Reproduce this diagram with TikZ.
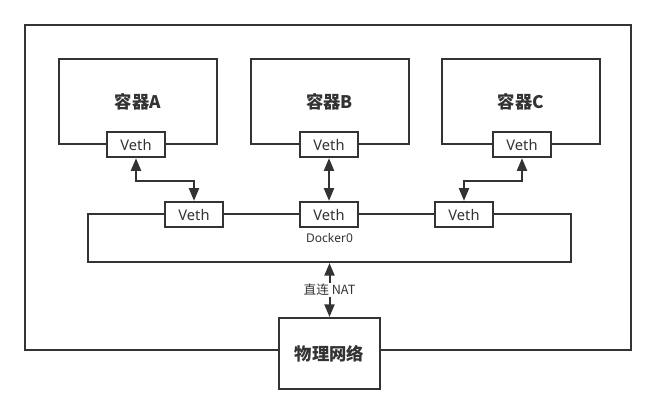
\documentclass[tikz,border=0pt]{standalone}
\usepackage{fontspec}
\setmainfont{Noto Sans}
\newfontfamily\cjk{Noto Sans CJK SC}
\usetikzlibrary{arrows.meta}
\definecolor{linegray}{HTML}{333333}
\tikzset{
	box/.style={draw=linegray, line width=1.5pt, fill=white, inner sep=0pt, text=linegray},
	container/.style={box, minimum width=118.5pt, minimum height=63.75pt, font=\cjk\bfseries\fontsize{13}{15}\selectfont},
	veth/.style={box, minimum width=44pt, minimum height=19pt, font=\fontsize{11}{13}\selectfont},
	link/.style={draw=linegray, line width=1.5pt, {Triangle[length=9.5pt,width=7.5pt]}-{Triangle[length=9.5pt,width=7.5pt]}}
}
\begin{document}
\begin{tikzpicture}[x=0.75pt, y=-0.75pt]
	\useasboundingbox (0,0) rectangle (656,414);
	\draw[box, fill=none] (25,25) rectangle (631,350);
	% containers
	\node[container] (ctA) at (138,101.5) {容器A};
	\node[container] (ctB) at (329.5,101.5) {容器B};
	\node[container] (ctC) at (521,101.5) {容器C};
	\node[veth] (vethA) at (136,144.5) {Veth};
	\node[veth] (vethB) at (329,144.5) {Veth};
	\node[veth] (vethC) at (522,144.5) {Veth};
	% bridge
	\node[box, minimum width=362.25pt, minimum height=36pt, font=\fontsize{9}{11}\selectfont] (bridge) at (329.5,238) {Docker0};
	\node[veth] (bvethA) at (194,214.5) {Veth};
	\node[veth] (bvethB) at (329,214.5) {Veth};
	\node[veth] (bvethC) at (464,214.5) {Veth};
	\node[box, minimum width=75.75pt, minimum height=53.25pt, font=\cjk\bfseries\fontsize{13}{15}\selectfont] (phys) at (329.5,353.5) {物理网络};
	\draw[link] (vethA.south) -- ++(0,23) -| (bvethA.north);
	\draw[link] (vethB.south) -- (bvethB.north);
	\draw[link] (vethC.south) -- ++(0,23) -| (bvethC.north);
	\draw[link] (bridge.south) -- node[fill=white, text=linegray, inner sep=1pt, font=\cjk\fontsize{9.5}{11}\selectfont] {直连 NAT} (phys.north);
\end{tikzpicture}
\end{document}
